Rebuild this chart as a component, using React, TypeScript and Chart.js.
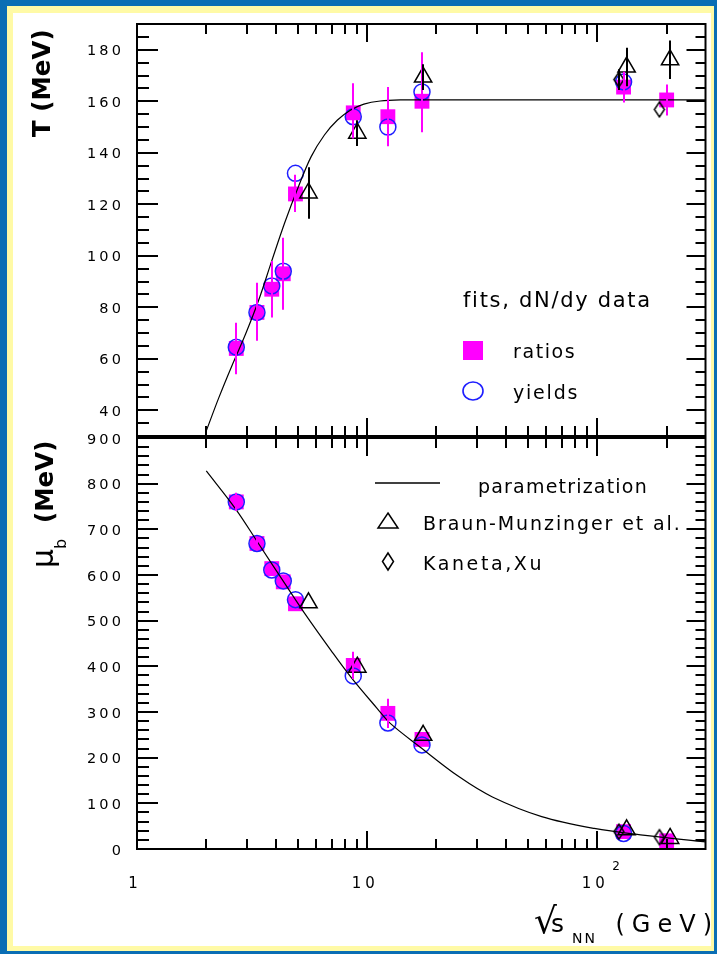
import React, { useEffect, useRef } from 'react';
import { Chart, registerables } from 'chart.js';

Chart.register(...registerables);

const W = 717;
const H = 954;

// ---------------- data ----------------
// sqrt(s_NN) in GeV
const ratiosE = [2.7, 3.32, 3.85, 4.32, 4.88, 8.7, 12.3, 17.3, 130, 200];
const ratiosT = [64, 78, 87, 93, 124, 155.5, 154, 160, 165.5, 160.5];
const ratiosTErrLo = [10, 11, 11, 14, 7, 10, 11.5, 12, 6, 6];
const ratiosTErrHi = [10, 11.5, 11, 14, 7.5, 11.5, 11.5, 19, 6, 6];
const ratiosMu = [760, 669, 614, 585, 537, 402, 297, 240, 38, 18];
const ratiosMuErr = [20, 15, 0, 0, 0, 30, 32, 0, 0, 0];

const yieldsE = [2.7, 3.32, 3.85, 4.32, 4.88, 8.7, 12.3, 17.3, 130];
const yieldsT = [64.5, 78, 88.3, 94, 132, 154, 150, 163.6, 167.5];
const yieldsMu = [760, 669, 611, 587, 546, 379, 276, 228, 34];

const bmE = [5.56, 9.06, 17.5, 134, 207];
const bmT = [124.4, 147.6, 169.4, 173.3, 176.1];
const bmTErr = [10, 5, 5, 7.5, 7.5];
const bmMu = [539, 398, 249, 42, 23];

const kxE = [124, 186];
const kxT = [168.4, 156.8];
const kxTErr = [4, 0];
const kxMu = [38, 26];

// parametrization curves, points
const paramTE = [2.0, 2.27, 2.59, 2.96, 3.37, 3.85, 4.39, 5.01, 5.71, 6.52, 7.43, 8.48, 9.68, 11.4, 14, 20, 50, 100, 300];
const paramT = [32, 45, 57.5, 69.5, 82.5, 98, 113, 126.5, 138.5, 146.9, 152.7, 156.6, 158.9, 160.1, 160.5, 160.5, 160.5, 160.5, 160.5];
const paramMuE = [2.0, 2.68, 3.37, 4.39, 5.35, 6.96, 8.48, 11.04, 12.6, 16.9, 25.1, 35, 57.3, 97, 154, 288, 300];
const paramMu = [828, 745, 669, 581, 516, 435, 377, 308, 275, 224, 158, 114, 71, 45, 31, 16, 15.5];

// axes
const X_MIN = 1;
const X_MAX = 295;
const xMajorTicks = [1, 10, 100];
const xTickLabels = ['1', '10', '10^2'];
const xMinorTicks = [2, 3, 4, 5, 6, 7, 8, 9, 20, 30, 40, 50, 60, 70, 80, 90, 200];

const T_MIN = 30;
const T_MAX = 190;
const tMajorTicks = [40, 60, 80, 100, 120, 140, 160, 180];
const tTickLabels = ['40', '60', '80', '100', '120', '140', '160', '180'];
const T_MINOR_STEP = 5;

const MU_MIN = 0;
const MU_MAX = 900;
const muMajorTicks = [0, 100, 200, 300, 400, 500, 600, 700, 800, 900];
const muTickLabels = ['0', '100', '200', '300', '400', '500', '600', '700', '800', '900'];
const MU_MINOR_STEP = 20;

// ---------------- styles ----------------
const FONT = '"DejaVu Sans", "Liberation Sans", Arial, sans-serif';
const MAGENTA = '#FF00FF';
const BLUE = '#1E1EFF';
const BLACK = '#000000';

function makeDiamond(w: number, h: number, lw: number) {
  const c = document.createElement('canvas');
  c.width = w + 4;
  c.height = h + 4;
  const g = c.getContext('2d')!;
  g.strokeStyle = BLACK;
  g.lineWidth = lw;
  g.beginPath();
  g.moveTo(c.width / 2, 2);
  g.lineTo(c.width - 2, c.height / 2);
  g.lineTo(c.width / 2, c.height - 2);
  g.lineTo(2, c.height / 2);
  g.closePath();
  g.stroke();
  return c;
}

function txt(
  ctx: CanvasRenderingContext2D,
  s: string,
  x: number,
  y: number,
  size: number,
  o: { bold?: boolean; spacing?: number; align?: string; baseline?: string; color?: string } = {}
) {
  ctx.save();
  ctx.font = `${o.bold ? 'bold ' : ''}${size}px ${FONT}`;
  (ctx as any).letterSpacing = '0px';
  const sp = o.spacing || 0;
  const w = ctx.measureText(s).width + sp * (s.length - 1);
  let sx = x;
  if (o.align === 'right') sx = x - w;
  else if (o.align === 'center') sx = x - w / 2;
  (ctx as any).letterSpacing = sp + 'px';
  ctx.textAlign = 'left';
  ctx.textBaseline = (o.baseline as CanvasTextBaseline) || 'alphabetic';
  ctx.fillStyle = o.color || BLACK;
  ctx.fillText(s, sx, y);
  ctx.restore();
  return w;
}

type PanelCfg = {
  yMajor: number[];
  yLabels: string[];
  yMin: number;
  yMax: number;
  yMinorStep: number;
  lower: boolean;
};

function makePanelPlugin(cfg: PanelCfg) {
  return {
    id: 'panelDecor',
    afterDatasetsDraw(chart: any) {
      const ctx: CanvasRenderingContext2D = chart.ctx;
      const xs = chart.scales.x;
      const ys = chart.scales.y;
      const a = chart.chartArea;
      ctx.save();
      ctx.beginPath();
      ctx.rect(a.left, a.top, a.right - a.left, a.bottom - a.top);
      ctx.clip();
      chart.data.datasets.forEach((ds: any) => {
        if (!ds.errLo) return;
        ctx.strokeStyle = ds.errColor;
        ctx.lineWidth = 2;
        ds.data.forEach((p: any, j: number) => {
          const lo = ds.errLo[j];
          const hi = ds.errHi[j];
          if (!lo && !hi) return;
          const px = Math.round(xs.getPixelForValue(p.x));
          ctx.beginPath();
          ctx.moveTo(px, ys.getPixelForValue(p.y - lo));
          ctx.lineTo(px, ys.getPixelForValue(p.y + hi));
          ctx.stroke();
        });
      });
      ctx.restore();
    },
    afterDraw(chart: any) {
      const ctx: CanvasRenderingContext2D = chart.ctx;
      const xs = chart.scales.x;
      const ys = chart.scales.y;
      const a = chart.chartArea;
      ctx.save();
      ctx.strokeStyle = BLACK;
      ctx.lineWidth = 2;
      ctx.strokeRect(a.left, a.top, a.right - a.left, a.bottom - a.top);

      // x ticks (top and bottom, inward)
      const xTick = (v: number, len: number) => {
        const px = Math.round(xs.getPixelForValue(v));
        if (px <= a.left + 1 || px >= a.right - 1) return;
        ctx.beginPath();
        ctx.moveTo(px, a.top);
        ctx.lineTo(px, a.top + len);
        ctx.moveTo(px, a.bottom);
        ctx.lineTo(px, a.bottom - len);
        ctx.stroke();
      };
      xMajorTicks.forEach((v) => xTick(v, 18));
      xMinorTicks.forEach((v) => xTick(v, 10));

      // y ticks (left and right, inward)
      const yTick = (v: number, lenL: number, lenR: number) => {
        const py = Math.round(ys.getPixelForValue(v));
        if (py <= a.top + 1 || py >= a.bottom - 1) return;
        ctx.beginPath();
        ctx.moveTo(a.left, py);
        ctx.lineTo(a.left + lenL, py);
        ctx.moveTo(a.right, py);
        ctx.lineTo(a.right - lenR, py);
        ctx.stroke();
      };
      for (let v = cfg.yMin; v <= cfg.yMax; v += cfg.yMinorStep) {
        if (cfg.yMajor.indexOf(v) >= 0) yTick(v, 21, 19);
        else yTick(v, 12, 10);
      }
      ctx.restore();

      // y tick labels
      cfg.yMajor.forEach((v, i) => {
        const py = ys.getPixelForValue(v);
        txt(ctx, cfg.yLabels[i], a.left - 16, py + 5.5, 14.5, { spacing: 3.2, align: 'right' });
      });

      if (!cfg.lower) {
        // y title
        ctx.save();
        ctx.translate(50, 137);
        ctx.rotate(-Math.PI / 2);
        txt(ctx, 'T (MeV)', 0, 0, 24.5, { bold: true });
        ctx.restore();

        // legend
        txt(ctx, 'fits, dN/dy data', 463, 307, 21, { spacing: 1.7 });
        ctx.fillStyle = MAGENTA;
        ctx.fillRect(463, 341, 20, 19);
        txt(ctx, 'ratios', 513, 358, 19, { spacing: 1.6 });
        ctx.save();
        ctx.strokeStyle = BLUE;
        ctx.lineWidth = 1.6;
        ctx.beginPath();
        ctx.ellipse(473, 391, 10, 9, 0, 0, Math.PI * 2);
        ctx.stroke();
        ctx.restore();
        txt(ctx, 'yields', 513, 399, 19, { spacing: 1.8 });
      } else {
        // y title
        ctx.save();
        ctx.translate(53, 568);
        ctx.rotate(-Math.PI / 2);
        txt(ctx, 'μ', 0, 0, 30);
        txt(ctx, 'b', 19, 13, 16);
        txt(ctx, '(MeV)', 45, 0, 24.5, { bold: true });
        ctx.restore();

        // x tick labels
        xMajorTicks.forEach((v, i) => {
          const px = xs.getPixelForValue(v);
          const lab = xTickLabels[i];
          if (lab.indexOf('^') >= 0) {
            const [base, exp] = lab.split('^');
            txt(ctx, base, px - 4, 888, 15, { spacing: 4, align: 'center' });
            txt(ctx, exp, px + 15, 870, 12);
          } else {
            txt(ctx, lab, px - 4, 888, 15, { spacing: 4, align: 'center' });
          }
        });

        // x title
        txt(ctx, '√', 534, 933, 36);
        txt(ctx, 's', 551, 932, 25);
        txt(ctx, 'NN', 572, 943, 14, { spacing: 2 });
        txt(ctx, '(GeV)', 712, 932, 24, { spacing: 7, align: 'right' });

        // legend
        ctx.save();
        ctx.strokeStyle = BLACK;
        ctx.lineWidth = 1.5;
        ctx.beginPath();
        ctx.moveTo(375, 483);
        ctx.lineTo(440, 483);
        ctx.stroke();
        ctx.beginPath();
        ctx.moveTo(388, 513);
        ctx.lineTo(398, 528);
        ctx.lineTo(378, 528);
        ctx.closePath();
        ctx.stroke();
        ctx.beginPath();
        ctx.moveTo(388, 553);
        ctx.lineTo(393.5, 561.5);
        ctx.lineTo(388, 570);
        ctx.lineTo(382.5, 561.5);
        ctx.closePath();
        ctx.stroke();
        ctx.restore();
        txt(ctx, 'parametrization', 478, 493, 19, { spacing: 1.2 });
        txt(ctx, 'Braun-Munzinger et al.', 423, 530, 19, { spacing: 1.9 });
        txt(ctx, 'Kaneta,Xu', 423, 570, 19, { spacing: 2.6 });
      }
    },
  };
}

const pts = (xs: number[], ys: number[]) => xs.map((x, i) => ({ x, y: ys[i] }));

function buildConfig(lower: boolean, diamond: HTMLCanvasElement): any {
  const curve = lower ? pts(paramMuE, paramMu) : pts(paramTE, paramT);
  const datasets: any[] = [
    {
      label: 'parametrization',
      data: curve,
      showLine: true,
      borderColor: BLACK,
      borderWidth: 1.2,
      pointRadius: 0,
      tension: 0.35,
      fill: false,
      order: 0,
    },
    {
      label: 'ratios',
      data: lower ? pts(ratiosE, ratiosMu) : pts(ratiosE, ratiosT),
      pointStyle: 'rect',
      pointRadius: 10.5,
      backgroundColor: MAGENTA,
      borderColor: MAGENTA,
      borderWidth: 0,
      errLo: lower ? ratiosMuErr : ratiosTErrLo,
      errHi: lower ? ratiosMuErr : ratiosTErrHi,
      errColor: MAGENTA,
      clip: false,
      order: 4,
    },
    {
      label: 'yields',
      data: lower ? pts(yieldsE, yieldsMu) : pts(yieldsE, yieldsT),
      pointStyle: 'circle',
      pointRadius: 8,
      backgroundColor: 'rgba(0,0,0,0)',
      borderColor: BLUE,
      borderWidth: 1.5,
      clip: false,
      order: 3,
    },
    {
      label: 'Braun-Munzinger et al.',
      data: lower ? pts(bmE, bmMu) : pts(bmE, bmT),
      pointStyle: 'triangle',
      pointRadius: 10,
      backgroundColor: 'rgba(0,0,0,0)',
      borderColor: BLACK,
      borderWidth: 1.5,
      errLo: lower ? null : bmTErr,
      errHi: lower ? null : bmTErr,
      errColor: BLACK,
      clip: false,
      order: 2,
    },
    {
      label: 'Kaneta,Xu',
      data: lower ? pts(kxE, kxMu) : pts(kxE, kxT),
      pointStyle: diamond,
      pointRadius: 6,
      errLo: lower ? null : kxTErr,
      errHi: lower ? null : kxTErr,
      errColor: BLACK,
      clip: false,
      order: 1,
    },
  ];
  const padding = lower
    ? { left: 137, top: 438, right: W - 712, bottom: H - 849 }
    : { left: 137, top: 24, right: W - 712, bottom: H - 436 };
  return {
    type: 'scatter',
    data: { datasets },
    options: {
      responsive: false,
      animation: false,
      devicePixelRatio: 1,
      events: [],
      layout: { padding },
      scales: {
        x: { type: 'logarithmic', min: X_MIN, max: X_MAX, display: false },
        y: {
          type: 'linear',
          min: lower ? MU_MIN : T_MIN,
          max: lower ? MU_MAX : T_MAX,
          display: false,
        },
      },
      plugins: { legend: { display: false }, tooltip: { enabled: false } },
    },
    plugins: [
      makePanelPlugin(
        lower
          ? { yMajor: muMajorTicks, yLabels: muTickLabels, yMin: MU_MIN, yMax: MU_MAX, yMinorStep: MU_MINOR_STEP, lower: true }
          : { yMajor: tMajorTicks, yLabels: tTickLabels, yMin: T_MIN, yMax: T_MAX, yMinorStep: T_MINOR_STEP, lower: false }
      ),
    ],
  };
}

export default function App() {
  const upperRef = useRef<HTMLCanvasElement>(null);
  const lowerRef = useRef<HTMLCanvasElement>(null);

  useEffect(() => {
    const diamond = makeDiamond(10, 15, 1.5);
    const c1 = new Chart(upperRef.current!, buildConfig(false, diamond));
    const c2 = new Chart(lowerRef.current!, buildConfig(true, diamond));
    return () => {
      c1.destroy();
      c2.destroy();
    };
  }, []);

  const canvasStyle: React.CSSProperties = { position: 'absolute', left: 0, top: 0, width: W, height: H };
  return (
    <div style={{ position: 'absolute', left: 0, top: 0, width: W, height: H, background: '#0A6EB4', overflow: 'hidden' }}>
      <div style={{ position: 'absolute', left: 7, top: 6, right: 3, bottom: 3, background: '#FFFAA6' }} />
      <div style={{ position: 'absolute', left: 13, top: 13, right: 6, bottom: 8, background: '#FFFFFF' }} />
      <canvas ref={upperRef} width={W} height={H} style={canvasStyle} />
      <canvas ref={lowerRef} width={W} height={H} style={canvasStyle} />
    </div>
  );
}
